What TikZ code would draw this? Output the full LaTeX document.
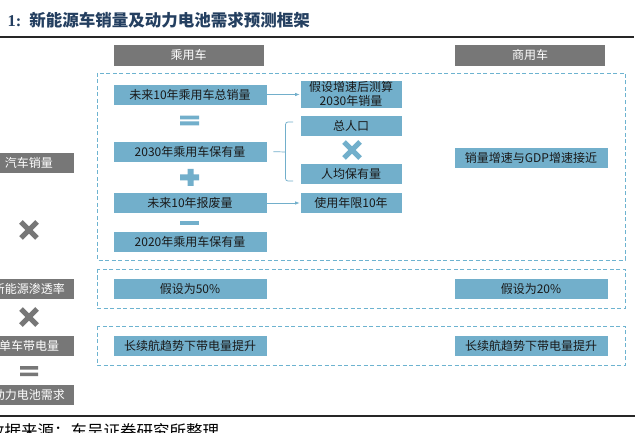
\documentclass[tikz,border=0pt]{standalone}
\usepackage{fontspec}
\setmainfont{Noto Sans CJK SC}
\newfontfamily\numfont{Liberation Serif}
\usetikzlibrary{arrows.meta}
\definecolor{boxblue}{HTML}{72AFCB}
\definecolor{boxgray}{HTML}{777777}
\definecolor{dashblue}{HTML}{6DB3D0}
\definecolor{titleblue}{HTML}{243F60}

\begin{document}
\begin{tikzpicture}[x=1pt,y=-1pt,
    box/.style={draw=white,line width=0.8pt,inner sep=0pt,minimum height=21pt,
      font=\fontsize{12}{14}\selectfont,align=center},
    bluebox/.style={box,fill=boxblue,text=black!90,minimum width=154pt},
    sidebox/.style={box,fill=boxblue,text=black!90,minimum width=102pt},
    graybox/.style={box,fill=boxgray,text=white,minimum width=90pt},
    headbox/.style={box,fill=boxgray,text=white,minimum width=151pt,minimum height=22pt},
    frame/.style={draw=dashblue,line width=0.7pt,dash pattern=on 4pt off 2.5pt},
    link/.style={draw=boxblue,line width=0.7pt},
    arr/.style={link,-{Latex[length=4.5pt,width=3.5pt]}},
    crossmark/.style={line width=5pt},
    rule/.style={draw=black!85,line width=2pt}]
  \clip (0,0) rectangle (638,433);
  \fill[white] (0,0) rectangle (638,433);
  % title and rules
  \node[anchor=west,text=titleblue,font=\fontsize{16.5}{18}\selectfont\bfseries] (title) at (4,20)
    {{\numfont 1:}\hspace{8pt}新能源车销量及动力电池需求预测框架};
  \draw[rule] (0,37) -- (634,37);
  \draw[rule] (0,416) -- (635,416);
  \node[anchor=west,font=\fontsize{16.5}{18}\selectfont] (source) at (-15.5,431)
    {数据来源：东吴证券研究所整理};
  % column headers
  \node[headbox] (hcar) at (188.5,55) {乘用车};
  \node[headbox] (hcom) at (530,55)   {商用车};
  % dashed frames
  \draw[frame] (97,73)  rectangle (625,260);
  \draw[frame] (97,269) rectangle (625,308);
  \draw[frame] (97,326) rectangle (625,365);
  % left labels
  \node[graybox] (sales)  at (29,162.5) {汽车销量};
  \node[graybox] (pen)    at (29,288.5) {新能源渗透率};
  \node[graybox] (kwh)    at (29,346)   {单车带电量};
  \node[graybox] (demand) at (29,394.5) {动力电池需求};
  \draw[crossmark,boxgray] (21,222) -- (37,238) (21,238) -- (37,222);
  \draw[crossmark,boxgray] (21,309) -- (37,325) (21,325) -- (37,309);
  \fill[boxgray] (20,366) rectangle (38,369.5) (20,372.5) rectangle (38,376);
  % passenger cars
  \node[bluebox] (total)   at (190,94.5) {未来10年乘用车总销量};
  \node[bluebox] (stock30) at (190,151.5) {2030年乘用车保有量};
  \node[bluebox] (scrap)   at (190,203) {未来10年报废量};
  \node[bluebox] (stock20) at (190,242) {2020年乘用车保有量};
  \fill[boxblue] (180,115.7) rectangle (199,119.5) (180,121.5) rectangle (199,125.5);
  \fill[boxblue] (180,174.5) rectangle (199,180.5) (187.5,169) rectangle (193.5,186);
  \fill[boxblue] (180,221) rectangle (199,225);
  \node[sidebox,minimum height=28pt,font=\fontsize{12}{13.5}\selectfont] (calc) at (351,94)
    {假设增速后测算\\2030年销量};
  \node[sidebox] (pop)    at (351,125.5) {总人口};
  \node[sidebox] (percap) at (351,173.5) {人均保有量};
  \node[sidebox] (life)   at (351,203) {使用年限10年};
  \draw[crossmark,boxblue] (344,142) -- (360,158) (344,158) -- (360,142);
  \draw[arr] (total.east) -- (calc.west |- total.east);
  \draw[arr] (scrap.east) -- (life.west);
  \coordinate (braceT) at (293,122);
  \coordinate (braceM) at (285.5,152);
  \coordinate (braceB) at (293,181);
  \draw[link,rounded corners=2.5pt] (braceT) -| (braceM) |- (braceB);
  \draw[link,shorten <=6pt] (stock30.east) -- (braceM);
  \node[bluebox] (gdp) at (531,157.5) {销量增速与GDP增速接近};
  % penetration and battery size
  \node[bluebox] (pen50) at (190,288.5) {假设为50\%};
  \node[bluebox] (pen20) at (531,288.5) {假设为20\%};
  \node[bluebox] (kwhcar) at (190,346) {长续航趋势下带电量提升};
  \node[bluebox] (kwhcom) at (531,346) {长续航趋势下带电量提升};
\end{tikzpicture}
\end{document}
